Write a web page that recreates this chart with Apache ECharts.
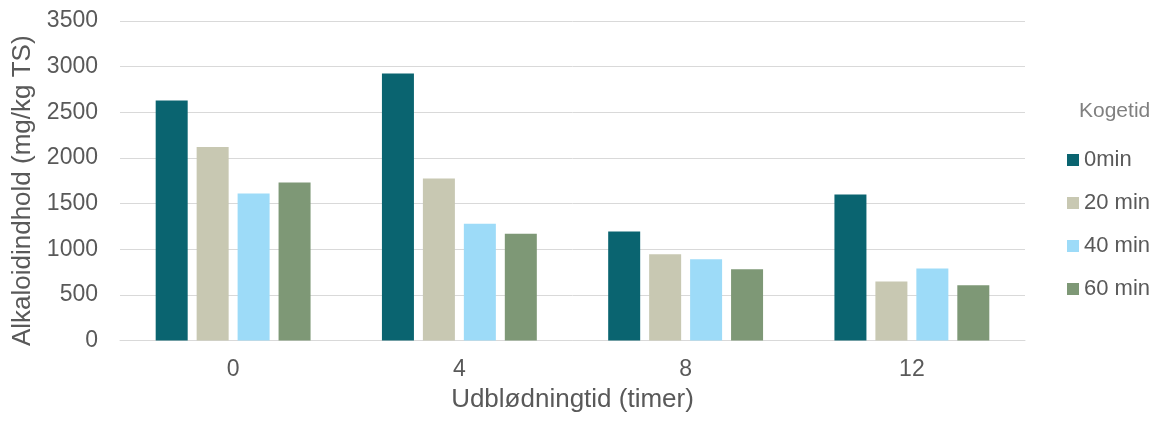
<!DOCTYPE html>
<html>
<head>
<meta charset="utf-8">
<script src="https://cdn.jsdelivr.net/npm/echarts@6/dist/echarts.min.js"></script>
<style>html,body{margin:0;padding:0;background:#fff}#c{width:1164px;height:421px}</style>
</head>
<body>
<div id="c"></div>
<script>
const categories = ['0', '4', '8', '12'];
const seriesNames = ['0min', '20 min', '40 min', '60 min'];
const min0 = [2630, 2925, 1195, 1600];
const min20 = [2120, 1775, 945, 645];
const min40 = [1610, 1280, 890, 790];
const min60 = [1730, 1170, 780, 605];
const yTicks = [0, 500, 1000, 1500, 2000, 2500, 3000, 3500];
const colors = ['#0a6470', '#c8c8b2', '#9ddbf8', '#7e9876'];

const values = [min0, min20, min40, min60];
const font = 'Liberation Sans, Arial, sans-serif';
const chart = echarts.init(document.getElementById('c'), null, {renderer: 'canvas'});
chart.setOption({
  animation: false,
  textStyle: {fontFamily: font},
  title: {
    text: 'Kogetid', left: 1079, top: 101, padding: 0,
    textStyle: {fontFamily: font, fontSize: 21, fontWeight: 'normal', color: '#808080'}
  },
  legend: {
    orient: 'vertical', left: 1067, top: 149, padding: 0,
    itemWidth: 12, itemHeight: 12, itemGap: 21,
    icon: 'rect',
    textStyle: {fontFamily: font, fontSize: 22, color: '#595959', lineHeight: 21},
    data: seriesNames
  },
  grid: {left: 120, right: 139, top: 21, bottom: 80.5, containLabel: false},
  xAxis: {
    type: 'category', data: categories,
    name: 'Udblødningtid (timer)', nameLocation: 'middle', nameGap: 44,
    nameTextStyle: {fontFamily: font, fontSize: 26, color: '#595959'},
    axisLine: {lineStyle: {color: '#d9d9d9', width: 1}},
    axisTick: {show: false},
    axisLabel: {fontFamily: font, fontSize: 23, color: '#595959', margin: 18}
  },
  yAxis: {
    type: 'value', min: yTicks[0], max: yTicks[yTicks.length - 1], interval: 500,
    name: 'Alkaloidindhold (mg/kg TS)', nameLocation: 'middle', nameGap: 82,
    nameTextStyle: {fontFamily: font, fontSize: 26, color: '#595959', padding: [0, 20, 0, 0]},
    axisLine: {show: false}, axisTick: {show: false},
    splitLine: {lineStyle: {color: '#d9d9d9', width: 1}},
    axisLabel: {fontFamily: font, fontSize: 23, color: '#595959', margin: 22,
      formatter: v => String(v)}
  },
  series: seriesNames.map((n, i) => ({
    name: n, type: 'bar', data: values[i],
    barWidth: 32, barGap: '28%',
    itemStyle: {color: colors[i]}
  }))
});
</script>
</body>
</html>
